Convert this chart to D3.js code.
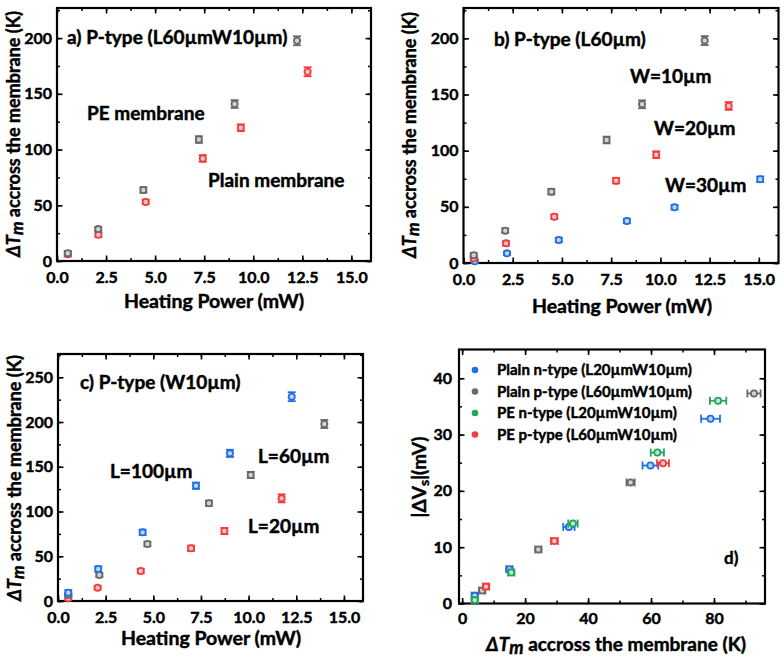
<!DOCTYPE html>
<html><head><meta charset="utf-8">
<script src="https://cdn.jsdelivr.net/npm/d3@7"></script>
<style>body{margin:0;background:#fff}svg{display:block}text{font-family:Lato,'Open Sans',sans-serif;font-weight:700}</style>
</head><body>
<svg id="c" width="784" height="657"></svg>
<script>
// ---------- DATA ----------
// Panel a: P-type L60umW10um, Heating power (mW) vs dTm (K)
const aPE_x = [0.55, 2.1, 4.4, 7.23, 9.05, 12.23];
const aPE_y = [7, 28.6, 63.7, 109, 140.8, 197.6];
const aPE_e = [2, 2, 2.5, 3, 3.5, 4];
const aPlain_x = [0.55, 2.11, 4.52, 7.43, 9.37, 12.77];
const aPlain_y = [6, 23.5, 53, 92, 119.6, 169.8];
const aPlain_e = [2, 2, 2, 3, 3, 4];
// Panel b: P-type L60um, various widths
const bW10_x = [0.52, 2.12, 4.46, 7.27, 9.07, 12.25];
const bW10_y = [7, 28.8, 63.5, 109.5, 141.3, 198];
const bW10_e = [2, 2, 2.5, 3, 3.5, 4];
const bW20_x = [0.52, 2.16, 4.61, 7.75, 9.79, 13.47];
const bW20_y = [4.2, 17.5, 41.2, 73.3, 96.4, 139.8];
const bW20_e = [2, 2, 2, 2.5, 3, 3.5];
const bW30_x = [0.57, 2.21, 4.84, 8.3, 10.72, 15.07];
const bW30_y = [1.5, 8.6, 20.5, 37.4, 49.6, 74.5];
const bW30_e = [1.5, 1.5, 2, 2, 2, 2.5];
// Panel c: P-type W10um, various lengths
const cL100_x = [0.54, 2.11, 4.44, 7.24, 9.02, 12.26];
const cL100_y = [9.3, 35.7, 76.7, 128.8, 165, 228.3];
const cL100_e = [3, 3, 3, 3.5, 4, 5];
const cL60_x = [0.54, 2.17, 4.69, 7.92, 10.11, 13.97];
const cL60_y = [6.7, 29, 63.7, 109.2, 140.8, 197.8];
const cL60_e = [2, 2, 2.5, 3, 3.5, 4.5];
const cL20_x = [0.54, 2.08, 4.34, 6.98, 8.73, 11.73];
const cL20_y = [3, 14.9, 33.5, 58.9, 78.2, 114.7];
const cL20_e = [2, 2, 2.5, 3, 3.5, 4.5];
// Panel d: dTm (K) vs |dVs| (mV)
const dPlainN_x = [4.0, 15.0, 33.9, 59.8, 78.9];
const dPlainN_y = [1.4, 6.1, 13.6, 24.5, 32.8];
const dPlainN_ex = [1, 1, 1.8, 2.5, 3];
const dPlainP_x = [6.35, 24.2, 53.5, 92.7];
const dPlainP_y = [2.3, 9.6, 21.5, 37.3];
const dPlainP_ex = [1, 1, 1.3, 2.1];
const dPEN_x = [4.0, 15.6, 35.2, 62.0, 81.3];
const dPEN_y = [0.6, 5.5, 14.2, 26.8, 36.0];
const dPEN_ex = [1, 1, 1.5, 2.1, 2.6];
const dPEP_x = [7.6, 29.3, 63.8];
const dPEP_y = [3.0, 11.1, 24.9];
const dPEP_ex = [1, 1.1, 1.9];
const dLegend = ["Plain n-type (L20\u00b5mW10\u00b5m)", "Plain p-type (L60\u00b5mW10\u00b5m)", "PE n-type (L20\u00b5mW10\u00b5m)", "PE p-type (L60\u00b5mW10\u00b5m)"];

const xTicksP = [0, 2.5, 5, 7.5, 10, 12.5, 15];
const yTicksAB = [0, 50, 100, 150, 200];
const yTicksC = [0, 50, 100, 150, 200, 250];
const xTicksD = [0, 20, 40, 60, 80];
const yTicksD = [0, 10, 20, 30, 40];

const GRAY = "#686868", RED = "#f23c3c", BLUE = "#1f6fe3", GREEN = "#24a55c";

const svg = d3.select("#c");
const fmt1 = d3.format(".1f");
const TXT_STROKE = 0.45;

function styleText(sel) {
  sel.attr("font-family", "Lato,sans-serif").attr("font-weight", 700).attr("fill", "#000")
    .attr("stroke", "#000").attr("stroke-width", TXT_STROKE);
}

function panel(o) {
  const g = svg.append("g");
  const x = d3.scaleLinear().domain(o.xd).range([o.l, o.r]);
  const y = d3.scaleLinear().domain(o.yd).range([o.b, o.t]);
  const defs = [
    [d3.axisBottom, x, `translate(0,${o.b})`, o.xt, o.xm, o.xfmt || (d => d), o.xpad],
    [d3.axisTop, x, `translate(0,${o.t})`, o.xt, o.xm, null, 0],
    [d3.axisLeft, y, `translate(${o.l},0)`, o.yt, o.ym, (d => d), o.ypad],
    [d3.axisRight, y, `translate(${o.r},0)`, o.yt, o.ym, null, 0],
  ];
  defs.forEach(([mk, sc, tr, maj, mnr, f, pad]) => {
    const s1 = g.append("g").attr("transform", tr)
      .call(mk(sc).tickValues(mnr).tickSize(-3).tickFormat(""));
    s1.select(".domain").remove();
    s1.selectAll("line").attr("stroke-width", 1.5);
    const s2 = g.append("g").attr("transform", tr)
      .call(mk(sc).tickValues(maj).tickSize(-5.5).tickPadding(pad).tickFormat(f || ""));
    s2.select(".domain").remove();
    s2.selectAll("line").attr("stroke-width", 1.6);
    styleText(s2.selectAll("text").attr("font-size", 16));
  });
  g.append("rect").attr("x", o.l).attr("y", o.t).attr("width", o.r - o.l).attr("height", o.b - o.t)
    .attr("fill", "none").attr("stroke", "#000").attr("stroke-width", 2.2);
  return {g, x, y};
}

function marker(g, cx, cy, color) {
  g.append("circle").attr("cx", cx).attr("cy", cy).attr("r", 3.1)
    .attr("fill", d3.interpolateRgb(color, "#fff")(0.7)).attr("stroke", color).attr("stroke-width", 1.8);
}

function seriesV(P, xs, ys, es, color) {
  xs.forEach((xv, i) => {
    const cx = P.x(xv), y1 = P.y(ys[i] - es[i]), y2 = P.y(ys[i] + es[i]);
    const gg = P.g.append("g").attr("stroke", color).attr("stroke-width", 1.8);
    gg.append("line").attr("x1", cx).attr("x2", cx).attr("y1", y1).attr("y2", y2);
    gg.append("line").attr("x1", cx - 4).attr("x2", cx + 4).attr("y1", y1).attr("y2", y1);
    gg.append("line").attr("x1", cx - 4).attr("x2", cx + 4).attr("y1", y2).attr("y2", y2);
    marker(P.g, cx, P.y(ys[i]), color);
  });
}

function seriesH(P, xs, ys, ex, color) {
  xs.forEach((xv, i) => {
    const cy = P.y(ys[i]), x1 = P.x(xv - ex[i]), x2 = P.x(xv + ex[i]);
    const gg = P.g.append("g").attr("stroke", color).attr("stroke-width", 1.8);
    gg.append("line").attr("x1", x1).attr("x2", x2).attr("y1", cy).attr("y2", cy);
    gg.append("line").attr("x1", x1).attr("x2", x1).attr("y1", cy - 4).attr("y2", cy + 4);
    gg.append("line").attr("x1", x2).attr("x2", x2).attr("y1", cy - 4).attr("y2", cy + 4);
    const ey = 0.5;
    gg.append("line").attr("x1", P.x(xv)).attr("x2", P.x(xv)).attr("y1", P.y(ys[i] - ey)).attr("y2", P.y(ys[i] + ey));
    marker(P.g, P.x(xv), cy, color);
  });
}

function label(txt, x, y, size, anchor) {
  const t = svg.append("text").attr("x", x).attr("y", y).attr("font-size", size)
    .attr("text-anchor", anchor || "start").text(txt);
  styleText(t);
  return t;
}

function dTmLabel(el, size) {
  styleText(el);
  el.append("tspan").attr("font-style", "italic").text("\u0394T");
  el.append("tspan").attr("font-style", "italic").attr("font-size", size * 0.95).attr("dy", 3).text("m");
  el.append("tspan").attr("dy", -3).text(" accross the membrane (K)");
}

function yTitle(x, y, size) {
  const t = svg.append("text").attr("transform", `translate(${x},${y}) rotate(-90)`)
    .attr("text-anchor", "middle").attr("font-size", size);
  dTmLabel(t, size);
}

const minorP = d3.range(0, 16.01, 1.25);
// ---------- Panel a ----------
const A = panel({l: 57, r: 371, t: 8, b: 261, xd: [0, 16], yd: [0, 227], xt: xTicksP, xm: minorP,
  yt: yTicksAB, ym: d3.range(0, 227, 25), xpad: 11, ypad: 5, xfmt: fmt1});
seriesV(A, aPlain_x, aPlain_y, aPlain_e, RED);
seriesV(A, aPE_x, aPE_y, aPE_e, GRAY);
label("a) P-type (L60\u00b5mW10\u00b5m)", 67, 44, 19);
label("PE membrane", 87, 120, 19);
label("Plain membrane", 208, 187, 19);
label("Heating Power (mW)", 214, 308, 19.5, "middle");
yTitle(20, 134, 18);

// ---------- Panel b ----------
const B = panel({l: 463.5, r: 778.5, t: 8, b: 263, xd: [0, 16], yd: [0, 227], xt: xTicksP, xm: minorP,
  yt: yTicksAB, ym: d3.range(0, 227, 25), xpad: 11, ypad: 5, xfmt: fmt1});
seriesV(B, bW30_x, bW30_y, bW30_e, BLUE);
seriesV(B, bW20_x, bW20_y, bW20_e, RED);
seriesV(B, bW10_x, bW10_y, bW10_e, GRAY);
label("b) P-type (L60\u00b5m)", 494, 46, 19);
label("W=10\u00b5m", 630, 83, 19);
label("W=20\u00b5m", 654, 135, 19);
label("W=30\u00b5m", 665, 192, 19);
label("Heating Power (mW)", 622, 313, 19.5, "middle");
yTitle(416, 135, 18);

// ---------- Panel c ----------
const C = panel({l: 58, r: 363, t: 354, b: 601, xd: [0, 16], yd: [0, 276], xt: xTicksP, xm: minorP,
  yt: yTicksC, ym: d3.range(0, 276, 25), xpad: 11, ypad: 5, xfmt: fmt1});
seriesV(C, cL20_x, cL20_y, cL20_e, RED);
seriesV(C, cL60_x, cL60_y, cL60_e, GRAY);
seriesV(C, cL100_x, cL100_y, cL100_e, BLUE);
label("c) P-type (W10\u00b5m)", 80, 389, 19);
label("L=100\u00b5m", 110, 478, 19);
label("L=60\u00b5m", 258, 463, 19);
label("L=20\u00b5m", 248, 533, 19);
label("Heating Power (mW)", 211, 645, 19.5, "middle");
yTitle(21, 478, 18);

// ---------- Panel d ----------
const D = panel({l: 459, r: 765, t: 349.5, b: 603.5, xd: [-1, 96.2], yd: [0, 45.1], xt: xTicksD, xm: d3.range(0, 96, 10),
  yt: yTicksD, ym: d3.range(0, 45, 5), xpad: 9, ypad: 7});
seriesH(D, dPlainP_x, dPlainP_y, dPlainP_ex, GRAY);
seriesH(D, dPlainN_x, dPlainN_y, dPlainN_ex, BLUE);
seriesH(D, dPEN_x, dPEN_y, dPEN_ex, GREEN);
seriesH(D, dPEP_x, dPEP_y, dPEP_ex, RED);
const legCols = [BLUE, GRAY, GREEN, RED];
const legY = [370, 391.5, 413, 434.5];
dLegend.forEach((t, i) => {
  svg.append("circle").attr("cx", 475).attr("cy", legY[i]).attr("r", 3.3).attr("fill", legCols[i]);
  label(t, 497, legY[i] + 5, 15);
});
label("d)", 724, 564, 17);
{
  const t = svg.append("text").attr("x", 616).attr("y", 651).attr("text-anchor", "middle").attr("font-size", 19);
  dTmLabel(t, 19);
  const t2 = svg.append("text").attr("transform", "translate(426,477) rotate(-90)").attr("text-anchor", "middle").attr("font-size", 19);
  styleText(t2);
  t2.append("tspan").text("|\u0394V");
  t2.append("tspan").attr("font-size", 14).attr("dy", 3).text("s");
  t2.append("tspan").attr("dy", -3).text("|(mV)");
}
</script>
</body></html>
